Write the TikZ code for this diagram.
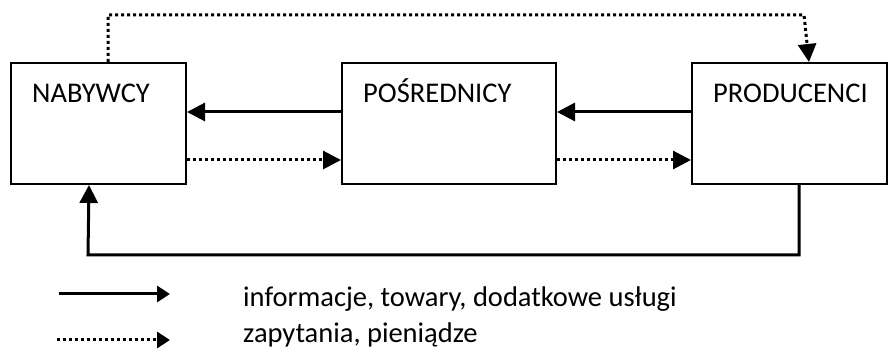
\documentclass[tikz,border=0pt]{standalone}
\usepackage{fontspec}
\setmainfont{Carlito}
\usetikzlibrary{arrows.meta}
\usetikzlibrary{positioning}

\begin{document}
\begin{tikzpicture}[x=1pt, y=1pt,
      box/.style={rectangle, draw=black, line width=2pt, minimum height=121pt, inner sep=0pt},
      lbl/.style={anchor=base west, inner sep=0pt, font=\fontsize{28.5}{34}\selectfont},
      arrow/.style={-{Triangle[length=18pt,width=18pt]}, line width=3pt},
      dots/.style={arrow, dash pattern=on 3pt off 3pt},
      keyarrow/.style={-{Triangle[length=13pt,width=16pt]}, line width=3pt}
      ]
      \useasboundingbox (0,0) rectangle (892,-355);

      % Nodes
      \node[box, minimum width=175pt, anchor=north west] (nab) at (10,-62) {};
      \node[box, minimum width=214pt, right=154pt of nab] (pos) {};
      \node[box, minimum width=195pt, right=134pt of pos] (prod) {};

      \node[lbl] (nabtxt) at ([shift={(22,-41)}]nab.north west) {NABYWCY};
      \node[lbl] (postxt) at ([shift={(22,-41)}]pos.north west) {POŚREDNICY};
      \node[lbl] (prodtxt) at ([shift={(22,-41)}]prod.north west) {PRODUCENCI};

      % Legend
      \coordinate (k1a) at (59,-294);
      \coordinate (k1b) at (170,-294);
      \coordinate (k2a) at (57,-340);
      \coordinate (k2b) at (170,-340);
      \node[lbl] (k1txt) at (243,-307) {informacje, towary, dodatkowe usługi};
      \node[lbl] (k2txt) at (243,-343) {zapytania, pieniądze};

      % Arrows
      \draw[arrow] ([yshift=11.5]pos.west) -- ([yshift=11.5]nab.east);
      \draw[arrow] ([yshift=11.5]prod.west) -- ([yshift=11.5]pos.east);
      \draw[dots] ([yshift=-36.5]nab.east) -- ([yshift=-36.5]pos.west);
      \draw[dots] ([yshift=-36.5]pos.east) -- ([yshift=-36.5]prod.west);
      \draw[dots] ([xshift=9.5]nab.north) |- (804,-15) -- ([xshift=19.5]prod.north);
      \draw[arrow] ([xshift=9.5]prod.south) |- (88,-255) -- ([xshift=-9.5]nab.south);

      \draw[keyarrow] (k1a) -- (k1b);
      \draw[keyarrow, dash pattern=on 3pt off 3pt] (k2a) -- (k2b);

    \end{tikzpicture}
\end{document}
